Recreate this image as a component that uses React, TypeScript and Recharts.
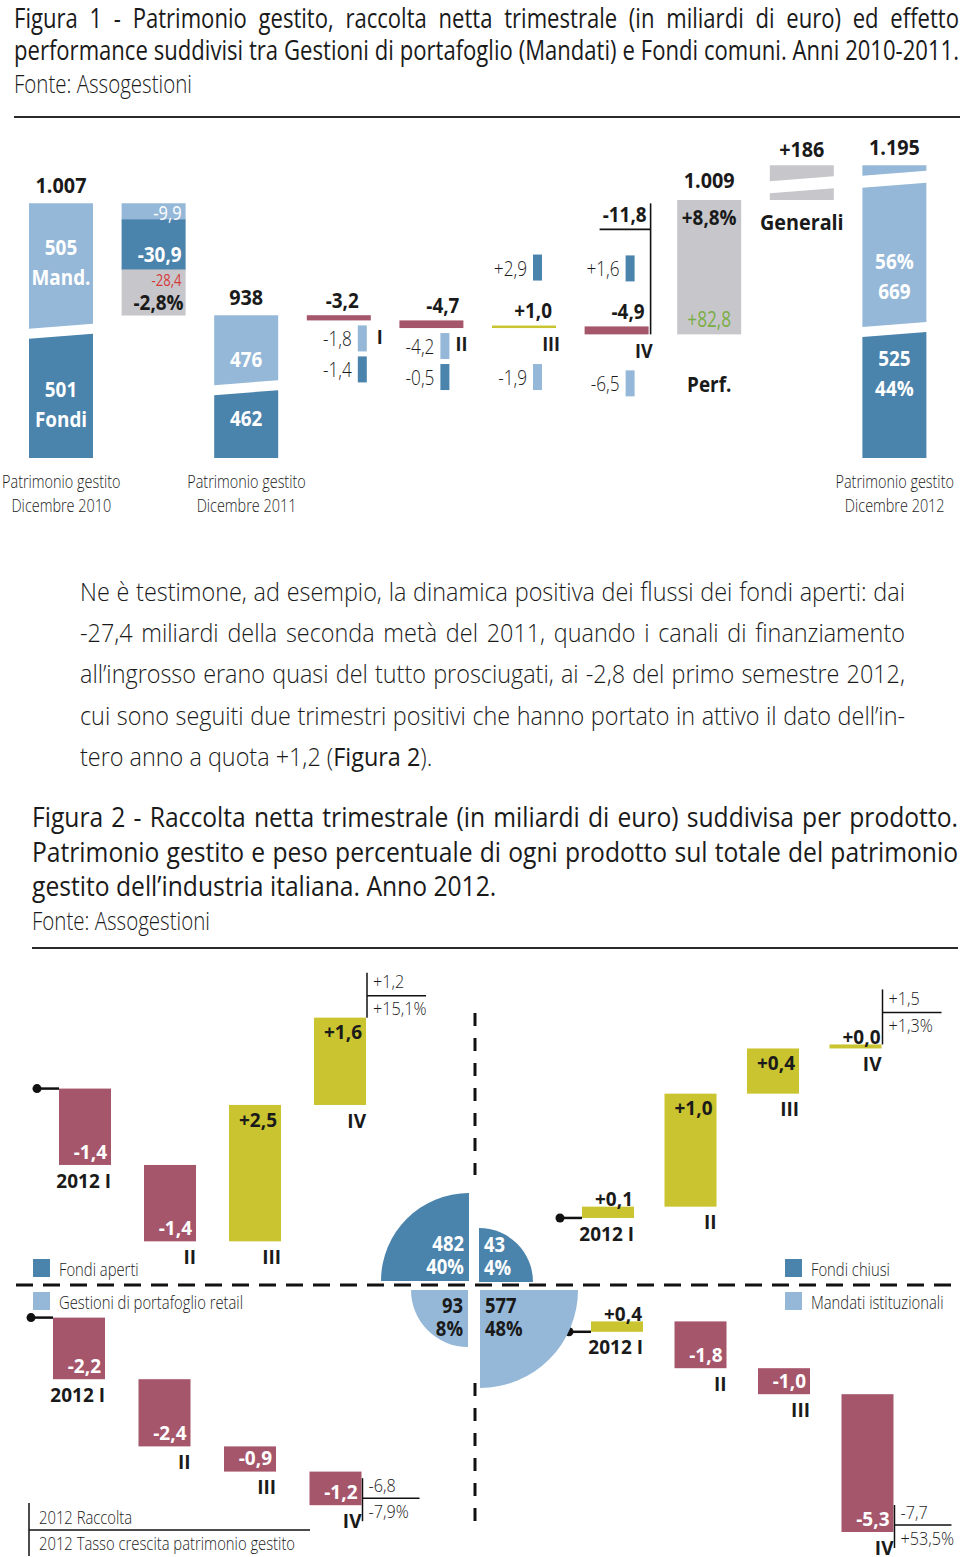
import React, { useLayoutEffect, useRef, useState } from 'react';
import { BarChart, Bar, XAxis, YAxis, PieChart, Pie, Cell } from 'recharts';

const FONT = "'Open Sans', 'Noto Sans', 'DejaVu Sans', sans-serif";
const SX_REG = 0.82;
const SX_BOLD = 0.9;
const LIGHT = 300;

// colours
const C_DARK = '#4a83ac';
const C_LIGHT = '#95b8d8';
const C_GRAY = '#c7c7cb';
const C_RED = '#a6566b';
const C_OLIVE = '#c9c42f';
const C_GREEN = '#7aad43';
const C_REDTXT = '#d63a3a';
const C_TEXT = '#1a1a1a';

// ---------------- Figure 1 data ----------------
const AUM_DATES = ['Dicembre 2010', 'Dicembre 2011', 'Dicembre 2012'];
const AUM_TOTAL = [1007, 938, 1195];
const AUM_MAND = [505, 476, 669];
const AUM_FONDI = [501, 462, 525];
const AUM_SHARE_2012 = [56, 44];
const FLOW2011_MAND = -9.9;
const FLOW2011_FONDI = -30.9;
const PERF2011 = -28.4;
const PERF2011_PCT = -2.8;
const QUARTERS = ['I', 'II', 'III', 'IV'];
const Q2012_TOTAL = [-3.2, -4.7, 1.0, -4.9];
const Q2012_MAND = [-1.8, -4.2, -1.9, -6.5];
const Q2012_FONDI = [-1.4, -0.5, 2.9, 1.6];
const PERF2012 = 82.8;
const PERF2012_PCT = 8.8;
const AUM_AFTER_PERF = 1009;
const GENERALI = 186;

// ---------------- Figure 2 data ----------------
const Q_LABELS_2012 = ['2012 I', 'II', 'III', 'IV'];
const FLOWS_FONDI_APERTI = [-1.4, -1.4, 2.5, 1.6];
const FLOWS_FONDI_CHIUSI = [0.1, 1.0, 0.4, 0.0];
const FLOWS_GP_RETAIL = [-2.2, -2.4, -0.9, -1.2];
const FLOWS_MANDATI_IST = [0.4, -1.8, -1.0, -5.3];
const TOTAL_2012 = [1.2, 1.5, -6.8, -7.7];
const GROWTH_2012 = [15.1, 1.3, -7.9, 53.5];
const PRODUCTS = ['Fondi aperti', 'Fondi chiusi', 'Gestioni di portafoglio retail', 'Mandati istituzionali'];
const AUM_2012 = [482, 43, 93, 577];
const WEIGHT_2012 = [40, 4, 8, 48];

// ---------------- helpers ----------------
const fmtDec = (v: number) => Math.abs(v).toFixed(1).replace('.', ',');
const fmtSigned = (v: number) => (v < 0 ? '-' : '+') + fmtDec(v);
const fmtInt = (v: number) =>
  v >= 1000 ? `${Math.floor(v / 1000)}.${String(v % 1000).padStart(3, '0')}` : String(v);

function T({ x, y, children, size = 19, weight = 400, fill = C_TEXT, anchor = 'middle', sx }: any) {
  const s = sx ?? (weight >= 600 ? SX_BOLD : SX_REG);
  return (
    <text
      transform={`translate(${x},${y}) scale(${s},1)`}
      textAnchor={anchor}
      dominantBaseline="central"
      fontSize={size}
      fontWeight={weight}
      fill={fill}
      fontFamily={FONT}
    >
      {children}
    </text>
  );
}

const quadPoly = (x: number, w: number, tl: number, tr: number, br: number, bl: number) =>
  `${x},${tl} ${x + w},${tr} ${x + w},${br} ${x},${bl}`;

// ---------------- Figure 1 (broken-axis waterfall) ----------------
const Y_MIN = 850;
const Y_MAX = 1046;
const BREAK_AT = AUM_AFTER_PERF;
const BREAK_K = 0.115;
const brk = (v: number) => (v <= BREAK_AT ? v : BREAK_AT + (v - BREAK_AT) * BREAK_K);

type F1Row = { key: string; kind: string; i: number; range: [number, number] };
const fig1Rows: F1Row[] = [];
{
  const end2011 = AUM_TOTAL[0] + FLOW2011_MAND + FLOW2011_FONDI + PERF2011;
  fig1Rows.push({ key: 'a0', kind: 'aum', i: 0, range: [Y_MIN, brk(AUM_TOTAL[0])] });
  fig1Rows.push({ key: 'f', kind: 'flow', i: 0, range: [end2011, AUM_TOTAL[0]] });
  fig1Rows.push({ key: 'a1', kind: 'aum', i: 1, range: [Y_MIN, brk(AUM_TOTAL[1])] });
  let lvl = AUM_TOTAL[1];
  Q2012_TOTAL.forEach((d, i) => {
    const nx = lvl + d;
    fig1Rows.push({ key: 'q' + i, kind: 'q', i, range: [Math.min(lvl, nx), Math.max(lvl, nx)] });
    lvl = nx;
  });
  fig1Rows.push({ key: 'p', kind: 'perf', i: 0, range: [lvl, lvl + PERF2012] });
  fig1Rows.push({ key: 'g', kind: 'gen', i: 0, range: [brk(AUM_AFTER_PERF), brk(AUM_AFTER_PERF + GENERALI)] });
  fig1Rows.push({ key: 'a2', kind: 'aum', i: 2, range: [Y_MIN, brk(AUM_TOTAL[2])] });
}

const MAND_DY = [-3, 10, 21];
const FONDI_DY = [7, -7, -23];

function Fig1Shape(props: any) {
  const { x, y, width: w, height: h, payload: p } = props;
  if (x == null || !p) return <g />;
  const cx = x + w / 2;
  const r = x + w;
  const b = y + h;
  const S = 5;

  if (p.kind === 'aum') {
    const i = p.i;
    const split = b - (h * AUM_FONDI[i]) / AUM_TOTAL[i];
    const G = 10;
    const broken = AUM_TOTAL[i] > BREAK_AT;
    const yb = y + 14;
    const G2 = 12;
    const mTopL = broken ? yb + G2 / 2 + S / 2 : y;
    const mTopR = broken ? yb + G2 / 2 - S / 2 : y;
    const mBotL = split - G / 2 + S / 2;
    const mBotR = split - G / 2 - S / 2;
    const fTopL = split + G / 2 + S / 2;
    const fTopR = split + G / 2 - S / 2;
    const mandLines =
      i === 0 ? [fmtInt(AUM_MAND[0]), 'Mand.'] : i === 2 ? [`${AUM_SHARE_2012[0]}%`, fmtInt(AUM_MAND[2])] : [fmtInt(AUM_MAND[i])];
    const fondiLines =
      i === 0 ? [fmtInt(AUM_FONDI[0]), 'Fondi'] : i === 2 ? [fmtInt(AUM_FONDI[2]), `${AUM_SHARE_2012[1]}%`] : [fmtInt(AUM_FONDI[i])];
    const mMid = ((mTopL + mTopR) / 2 + (mBotL + mBotR) / 2) / 2 + MAND_DY[i];
    const fMid = ((fTopL + fTopR) / 2 + b) / 2 + FONDI_DY[i];
    const LS = 30;
    return (
      <g>
        {broken && <polygon points={quadPoly(x, w, y, y, yb - G2 / 2 - S / 2, yb - G2 / 2 + S / 2)} fill={C_LIGHT} />}
        <polygon points={quadPoly(x, w, mTopL, mTopR, mBotR, mBotL)} fill={C_LIGHT} />
        <polygon points={quadPoly(x, w, fTopL, fTopR, b, b)} fill={C_DARK} />
        <T x={cx} y={y - 19} size={22} weight={700}>{fmtInt(AUM_TOTAL[i])}</T>
        {mandLines.map((t, k) => (
          <T key={'m' + k} x={cx} y={mMid + (k - (mandLines.length - 1) / 2) * LS} size={21} weight={700} fill="#fff">{t}</T>
        ))}
        {fondiLines.map((t, k) => (
          <T key={'f' + k} x={cx} y={fMid + (k - (fondiLines.length - 1) / 2) * LS} size={21} weight={700} fill="#fff">{t}</T>
        ))}
      </g>
    );
  }

  if (p.kind === 'flow') {
    const vals = [FLOW2011_MAND, FLOW2011_FONDI, PERF2011];
    const cols = [C_LIGHT, C_DARK, C_GRAY];
    const tot = vals.reduce((s, v) => s + Math.abs(v), 0);
    let yy = y;
    const segs = vals.map((v) => {
      const hh = (h * Math.abs(v)) / tot;
      const s = { top: yy, bot: yy + hh };
      yy += hh;
      return s;
    });
    return (
      <g>
        {segs.map((s, k) => (
          <rect key={k} x={x} y={s.top} width={w} height={s.bot - s.top + (k < 2 ? 0.5 : 0)} fill={cols[k]} />
        ))}
        <T x={r - 4} y={(segs[0].top + segs[0].bot) / 2} anchor="end" size={20} fill="#fff">{fmtSigned(FLOW2011_MAND)}</T>
        <T x={r - 4} y={segs[1].bot - 15} anchor="end" size={21} weight={700} fill="#fff">{fmtSigned(FLOW2011_FONDI)}</T>
        <T x={r - 4} y={segs[2].top + 10} anchor="end" size={16} fill={C_REDTXT}>{fmtSigned(PERF2011)}</T>
        <T x={r - 2} y={b - 13} anchor="end" size={21} weight={700}>{fmtSigned(PERF2011_PCT) + '%'}</T>
      </g>
    );
  }

  if (p.kind === 'q') {
    const i = p.i;
    const tot = Q2012_TOTAL[i];
    const icons = [
      { v: Q2012_MAND[i], c: C_LIGHT },
      { v: Q2012_FONDI[i], c: C_DARK },
    ];
    const neg = icons.filter((o) => o.v < 0);
    const pos = icons.filter((o) => o.v >= 0);
    const iw = 9;
    const ih = 26;
    const ix = r - (i === 0 ? 4 : 14) - iw;
    const negTops = neg.length === 2 ? [b + 5, b + 36] : [b + 36];
    const placed: any[] = [];
    neg.forEach((o, k) => placed.push({ ...o, top: negTops[k] }));
    pos.forEach((o, k) => placed.push({ ...o, top: y - 45 - ih - k * 31 }));
    const yearSum = Q2012_TOTAL.reduce((s, v) => s + v, 0);
    return (
      <g>
        <rect x={x} y={y} width={w} height={h} fill={tot < 0 ? C_RED : C_OLIVE} />
        <T x={r - (i === 0 ? 12 : 4)} y={y - 15} anchor="end" size={21} weight={700}>{fmtSigned(tot)}</T>
        <T x={r + (i === 0 ? 12 : 4)} y={b + 16} anchor="end" size={20} weight={700}>{QUARTERS[i]}</T>
        {placed.map((o, k) => (
          <g key={k}>
            <rect x={ix} y={o.top} width={iw} height={ih} fill={o.c} />
            <T x={ix - 6} y={o.top + ih / 2} anchor="end" size={20} weight={LIGHT} sx={0.86}>{fmtSigned(o.v)}</T>
          </g>
        ))}
        {i === QUARTERS.length - 1 && (
          <g>
            <line x1={r + 2} x2={r + 2} y1={b - 131} y2={b} stroke="#111" strokeWidth={1.6} />
            <line x1={r - 49} x2={r + 2} y1={b - 105} y2={b - 105} stroke="#111" strokeWidth={1.6} />
            <T x={r - 2} y={b - 120} anchor="end" size={21} weight={700}>{fmtSigned(yearSum)}</T>
          </g>
        )}
      </g>
    );
  }

  if (p.kind === 'perf') {
    return (
      <g>
        <rect x={x} y={y} width={w} height={h} fill={C_GRAY} />
        <T x={cx} y={y - 20} size={22} weight={700}>{fmtInt(AUM_AFTER_PERF)}</T>
        <T x={cx} y={y + 17} size={21} weight={700}>{fmtSigned(PERF2012_PCT) + '%'}</T>
        <T x={cx} y={b - 16} size={21} weight={500} fill={C_GREEN}>{fmtSigned(PERF2012)}</T>
        <T x={cx} y={b + 50} size={21} weight={700}>Perf.</T>
      </g>
    );
  }

  if (p.kind === 'gen') {
    const yb = y + h / 2 + 2;
    const G = 12;
    return (
      <g>
        <polygon points={quadPoly(x, w, y, y, yb - G / 2 - S / 2, yb - G / 2 + S / 2)} fill={C_GRAY} />
        <polygon points={quadPoly(x, w, yb + G / 2 + S / 2, yb + G / 2 - S / 2, b, b)} fill={C_GRAY} />
        <T x={cx} y={y - 17} size={22} weight={700}>{'+' + fmtInt(GENERALI)}</T>
        <T x={cx} y={b + 22} size={22} weight={700}>Generali</T>
      </g>
    );
  }
  return <g />;
}

function Fig1Tick(props: any) {
  const { x, y, payload } = props;
  const row = fig1Rows[payload?.index ?? -1];
  if (!row || row.kind !== 'aum') return <g />;
  return (
    <g>
      <T x={x} y={y + 23} size={18.5} weight={LIGHT} sx={0.78}>Patrimonio gestito</T>
      <T x={x} y={y + 47} size={18.5} weight={LIGHT} sx={0.78}>{AUM_DATES[row.i]}</T>
    </g>
  );
}

function Figure1() {
  return (
    <div style={{ position: 'absolute', left: 0, top: 130 }}>
      <BarChart width={960} height={400} data={fig1Rows} margin={{ top: 10, right: 19, bottom: 0, left: 15 }} barCategoryGap={0}>
        <XAxis
          dataKey="key"
          height={72}
          interval={0}
          tickLine={false}
          axisLine={false}
          tickSize={0}
          tickMargin={0}
          tick={(t: any) => <Fig1Tick {...t} />}
        />
        <YAxis type="number" domain={[Y_MIN, Y_MAX]} hide />
        <Bar dataKey="range" barSize={64} minPointSize={2.5} isAnimationActive={false} shape={(s: any) => <Fig1Shape {...s} />} />
      </BarChart>
    </div>
  );
}

// ---------------- Figure 2 (four waterfalls + quarter pie) ----------------
const WF_FLOWS = [FLOWS_FONDI_APERTI, FLOWS_FONDI_CHIUSI, FLOWS_GP_RETAIL, FLOWS_MANDATI_IST];
const WF_LAYOUT = [
  { left: 41.5, top: 974, width: 340, height: 311, domain: [-3.6, 2.1], side: 'top' },
  { left: 566.75, top: 975, width: 330, height: 310.75, domain: [-0.6, 2.15], side: 'top' },
  { left: 36.25, top: 1284.4, width: 342, height: 271.6, domain: [-8.5, 1.2], side: 'bottom' },
  { left: 574.75, top: 1285.2, width: 334, height: 271.7, domain: [-8.65, 1.8], side: 'bottom' },
];

function WfShape(props: any) {
  const { x, y, width: w, height: h, payload: p, total, growth, side } = props;
  if (x == null || !p) return <g />;
  const r = x + w;
  const b = y + h;
  const neg = p.flow < 0;
  const thin = h < 16;
  const SXB = 0.95;
  let valueLabel;
  if (thin) valueLabel = <T x={r - 1} y={y - 8} anchor="end" size={20} weight={700} sx={SXB}>{fmtSigned(p.flow)}</T>;
  else if (neg) valueLabel = <T x={r - 4} y={b - 14} anchor="end" size={20} weight={700} sx={SXB} fill="#fff">{fmtSigned(p.flow)}</T>;
  else valueLabel = <T x={r - 4} y={y + 14} anchor="end" size={20} weight={700} sx={SXB}>{fmtSigned(p.flow)}</T>;
  const sy = neg ? y : b;
  let annot = null;
  if (p.i === 3) {
    if (side === 'top') {
      const off = thin ? 10 : 0;
      annot = (
        <g>
          <line x1={r + 1} x2={r + 1} y1={y - 45 - off} y2={y} stroke="#111" strokeWidth={1.5} />
          <line x1={r + 1} x2={r + 60} y1={y - 22 - off} y2={y - 22 - off} stroke="#111" strokeWidth={1.5} />
          <T x={r + 7} y={y - 36 - off} anchor="start" size={18} weight={LIGHT} sx={0.9}>{fmtSigned(total)}</T>
          <T x={r + 7} y={y - 9 - off} anchor="start" size={18} weight={LIGHT} sx={0.9}>{fmtSigned(growth) + '%'}</T>
        </g>
      );
    } else {
      annot = (
        <g>
          <line x1={r + 1} x2={r + 1} y1={b - 27} y2={b + 16} stroke="#111" strokeWidth={1.5} />
          <line x1={r + 1} x2={r + 58} y1={b - 7} y2={b - 7} stroke="#111" strokeWidth={1.5} />
          <T x={r + 7} y={b - 20} anchor="start" size={18} weight={LIGHT} sx={0.9}>{fmtSigned(total)}</T>
          <T x={r + 7} y={b + 6} anchor="start" size={18} weight={LIGHT} sx={0.9}>{fmtSigned(growth) + '%'}</T>
        </g>
      );
    }
  }
  return (
    <g>
      <rect x={x} y={y} width={w} height={h} fill={neg ? C_RED : C_OLIVE} />
      {valueLabel}
      <T x={r} y={b + 15} anchor="end" size={20} weight={700} sx={SXB}>{p.q}</T>
      {p.i === 0 && (
        <g>
          <line x1={x - 22} x2={x} y1={sy} y2={sy} stroke="#111" strokeWidth={2.5} />
          <circle cx={x - 22} cy={sy} r={4.5} fill="#111" />
        </g>
      )}
      {annot}
    </g>
  );
}

function Waterfall({ k }: { k: number }) {
  const L = WF_LAYOUT[k];
  const rows: any[] = [];
  let lvl = 0;
  WF_FLOWS[k].forEach((f, i) => {
    const nx = lvl + f;
    rows.push({ q: Q_LABELS_2012[i], flow: f, i, range: [Math.min(lvl, nx), Math.max(lvl, nx)] });
    lvl = nx;
  });
  return (
    <div style={{ position: 'absolute', left: L.left, top: L.top }}>
      <BarChart width={L.width} height={L.height} data={rows} margin={{ top: 0, right: 0, bottom: 0, left: 0 }} barCategoryGap={0}>
        <XAxis dataKey="q" hide />
        <YAxis type="number" domain={L.domain as any} hide />
        <Bar
          dataKey="range"
          barSize={52}
          minPointSize={4}
          isAnimationActive={false}
          shape={(s: any) => <WfShape {...s} total={TOTAL_2012[k]} growth={GROWTH_2012[k]} side={L.side} />}
        />
      </BarChart>
    </div>
  );
}

const PIE_STYLE = [
  { start: 90, end: 180, cx: 115, cy: 116, r: 88, fill: C_DARK, text: '#fff', dx: -1, dy: -1 },
  { start: 0, end: 90, cx: 125, cy: 117, r: 54, fill: C_DARK, text: '#fff', dx: 1, dy: -1 },
  { start: 180, end: 270, cx: 114, cy: 125, r: 57, fill: C_LIGHT, text: C_TEXT, dx: -1, dy: 1 },
  { start: 270, end: 360, cx: 126, cy: 125, r: 98, fill: C_LIGHT, text: C_TEXT, dx: 1, dy: 1 },
];

function ProductPie() {
  return (
    <div style={{ position: 'absolute', left: 354, top: 1165 }}>
      <PieChart width={240} height={240} margin={{ top: 0, right: 0, bottom: 0, left: 0 }}>
        {PRODUCTS.map((name, k) => {
          const st = PIE_STYLE[k];
          const label = () => {
            const tx = st.cx + st.dx * 5;
            const anchor = st.dx < 0 ? 'end' : 'start';
            const y1 = st.dy < 0 ? st.cy - 38 : st.cy + 15;
            return (
              <g>
                <T x={tx} y={y1} anchor={anchor} size={20.5} weight={700} sx={0.9} fill={st.text}>{fmtInt(AUM_2012[k])}</T>
                <T x={tx} y={y1 + 23.5} anchor={anchor} size={20.5} weight={700} sx={0.9} fill={st.text}>{WEIGHT_2012[k] + '%'}</T>
              </g>
            );
          };
          return (
            <Pie
              key={name}
              data={[{ name, value: AUM_2012[k] }]}
              dataKey="value"
              nameKey="name"
              cx={st.cx}
              cy={st.cy}
              startAngle={st.start}
              endAngle={st.end}
              innerRadius={0}
              outerRadius={st.r}
              stroke="none"
              isAnimationActive={false}
              label={label}
              labelLine={false}
            >
              <Cell fill={st.fill} />
            </Pie>
          );
        })}
      </PieChart>
    </div>
  );
}

function Fig2Decor() {
  const legend = [
    { x: 33, y: 1259, c: C_DARK, t: PRODUCTS[0] },
    { x: 33, y: 1292, c: C_LIGHT, t: PRODUCTS[2] },
    { x: 785, y: 1259, c: C_DARK, t: PRODUCTS[1] },
    { x: 785, y: 1292, c: C_LIGHT, t: PRODUCTS[3] },
  ];
  return (
    <svg width={960} height={1557} style={{ position: 'absolute', left: 0, top: 0 }}>
      <line x1={16} x2={952} y1={1285} y2={1285} stroke="#111" strokeWidth={3} strokeDasharray="17 10" />
      <line x1={475} x2={475} y1={1013} y2={1175} stroke="#111" strokeWidth={3} strokeDasharray="13 12" />
      <line x1={475} x2={475} y1={1383} y2={1522} stroke="#111" strokeWidth={3} strokeDasharray="13 12" />
      {legend.map((l) => (
        <g key={l.t}>
          <rect x={l.x} y={l.y} width={17} height={18} fill={l.c} />
          <T x={l.x + 26} y={l.y + 10} anchor="start" size={18.5} weight={LIGHT} sx={0.8}>{l.t}</T>
        </g>
      ))}
      <line x1={29} x2={29} y1={1503} y2={1556} stroke="#111" strokeWidth={1.5} />
      <line x1={29} x2={310} y1={1530} y2={1530} stroke="#111" strokeWidth={1.5} />
      <T x={39} y={1517} anchor="start" size={18.5} weight={LIGHT} sx={0.8}>2012 Raccolta</T>
      <T x={39} y={1543} anchor="start" size={18.5} weight={LIGHT} sx={0.8}>2012 Tasso crescita patrimonio gestito</T>
    </svg>
  );
}

// ---------------- HTML text blocks (shared horizontal condensation per block) ----------------
type LineSpec = { content: React.ReactNode; cy: number; justify: boolean };

function TextBlock({ lines, left, width, size, weight = 400, maxScale }: { lines: LineSpec[]; left: number; width: number; size: number; weight?: number; maxScale: number }) {
  const refs = useRef<(HTMLSpanElement | null)[]>([]);
  const [scale, setScale] = useState(maxScale);
  useLayoutEffect(() => {
    let s = maxScale;
    lines.forEach((l, k) => {
      const el = refs.current[k];
      if (l.justify && el) {
        const nat = el.getBoundingClientRect().width;
        if (nat > 0) s = Math.min(s, (width - 2) / nat);
      }
    });
    setScale(s);
  }, []);
  const common: any = { fontFamily: FONT, fontSize: size, fontWeight: weight, lineHeight: 1.2, color: C_TEXT };
  return (
    <>
      {lines.map((l, k) => (
        <React.Fragment key={k}>
          <span
            ref={(el) => {
              refs.current[k] = el;
            }}
            style={{ ...common, position: 'absolute', visibility: 'hidden', whiteSpace: 'nowrap', left: 0, top: 0 }}
          >
            {l.content}
          </span>
          <div
            style={{
              ...common,
              position: 'absolute',
              left,
              top: l.cy - 0.63 * size,
              width: width / scale,
              transform: `scaleX(${scale})`,
              transformOrigin: 'left top',
              textAlign: l.justify ? 'justify' : 'left',
              textAlignLast: l.justify ? 'justify' : 'left',
            }}
          >
            {l.content}
          </div>
        </React.Fragment>
      ))}
    </>
  );
}

const TITLE1_LINES = [
  'Figura 1 - Patrimonio gestito, raccolta netta trimestrale (in miliardi di euro) ed effetto',
  'performance suddivisi tra Gestioni di portafoglio (Mandati) e Fondi comuni. Anni 2010-2011.',
];
const PARA_LINES = [
  'Ne è testimone, ad esempio, la dinamica positiva dei flussi dei fondi aperti: dai',
  '-27,4 miliardi della seconda metà del 2011, quando i canali di finanziamento',
  'all’ingrosso erano quasi del tutto prosciugati, ai -2,8 del primo semestre 2012,',
  'cui sono seguiti due trimestri positivi che hanno portato in attivo il dato dell’in-',
];
const TITLE2_LINES = [
  'Figura 2 - Raccolta netta trimestrale (in miliardi di euro) suddivisa per prodotto.',
  'Patrimonio gestito e peso percentuale di ogni prodotto sul totale del patrimonio',
  'gestito dell’industria italiana. Anno 2012.',
];
const SOURCE = 'Fonte: Assogestioni';

export default function App() {
  const title1: LineSpec[] = TITLE1_LINES.map((t, k) => ({ content: t, cy: 18.5 + k * 32.5, justify: true }));
  const para: LineSpec[] = [
    ...PARA_LINES.map((t, k) => ({ content: t, cy: 592 + k * 41.4, justify: true })),
    {
      content: (
        <>
          tero anno a quota +1,2 (<b>Figura 2</b>).
        </>
      ),
      cy: 592 + 4 * 41.4,
      justify: false,
    },
  ];
  const title2: LineSpec[] = TITLE2_LINES.map((t, k) => ({ content: t, cy: 818 + k * 34.5, justify: k < 2 }));
  return (
    <div style={{ position: 'absolute', left: 0, top: 0, width: 960, height: 1557, background: '#fff', overflow: 'hidden' }}>
      <style>{`.recharts-surface{overflow:visible}`}</style>

      <TextBlock lines={title1} left={14} width={945} size={28} maxScale={0.95} />
      <TextBlock lines={[{ content: SOURCE, cy: 84, justify: false }]} left={14} width={400} size={25} weight={LIGHT} maxScale={0.82} />
      <div style={{ position: 'absolute', left: 14, top: 116, width: 946, height: 2, background: '#2a2a2a' }} />

      <Figure1 />

      <TextBlock lines={para} left={80} width={825} size={26} weight={LIGHT} maxScale={0.9} />

      <TextBlock lines={title2} left={32} width={926} size={28} maxScale={0.88} />
      <TextBlock lines={[{ content: SOURCE, cy: 921, justify: false }]} left={32} width={400} size={25} weight={LIGHT} maxScale={0.82} />
      <div style={{ position: 'absolute', left: 32, top: 947, width: 926, height: 2, background: '#2a2a2a' }} />

      <Fig2Decor />
      {WF_LAYOUT.map((_, k) => (
        <Waterfall key={k} k={k} />
      ))}
      <ProductPie />
    </div>
  );
}
